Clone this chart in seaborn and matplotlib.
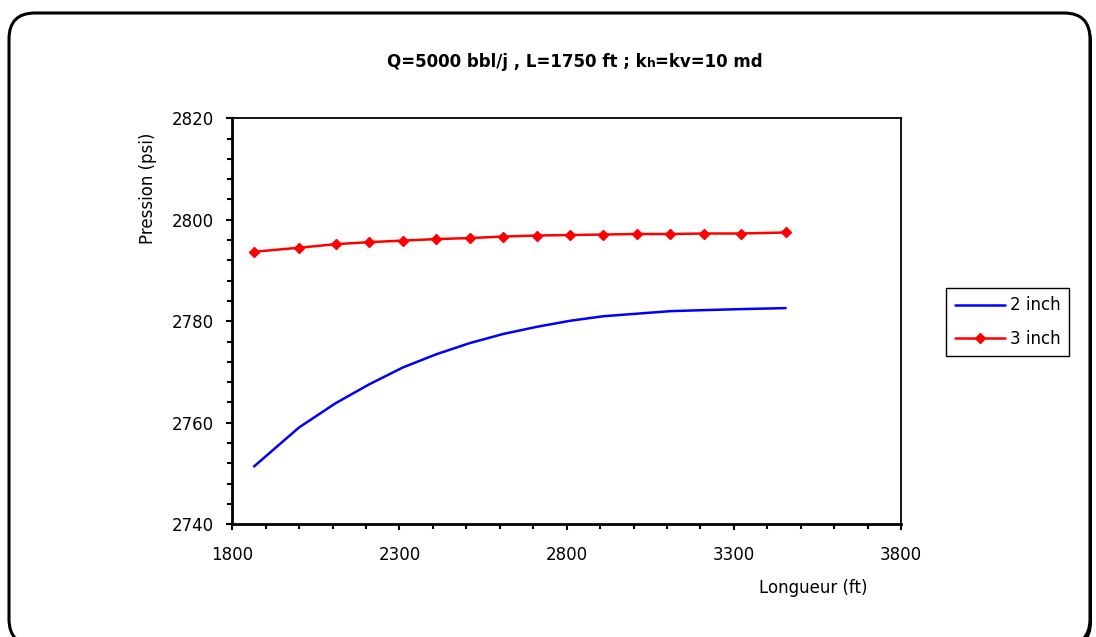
import matplotlib
matplotlib.use("Agg")
import matplotlib.pyplot as plt
from matplotlib.patches import FancyBboxPatch
from matplotlib.transforms import IdentityTransform
from matplotlib.offsetbox import TextArea, HPacker, AnchoredOffsetbox
from matplotlib.ticker import MultipleLocator
import seaborn as sns
import pandas as pd

# Lengths (ft) and bottom-hole pressures (psi) for each tubing size
longueur = [1865, 2000, 2110, 2210, 2310, 2410, 2510, 2610, 2710, 2810,
            2910, 3010, 3110, 3210, 3320, 3455]
p_2inch = [2751.4, 2759.1, 2763.9, 2767.6, 2770.9, 2773.5, 2775.7, 2777.5,
           2778.9, 2780.1, 2781.0, 2781.5, 2782.0, 2782.2, 2782.4, 2782.6]
p_3inch = [2793.7, 2794.5, 2795.2, 2795.6, 2795.9, 2796.2, 2796.4, 2796.7,
           2796.9, 2797.0, 2797.1, 2797.2, 2797.2, 2797.3, 2797.3, 2797.5]
series_names = ["2 inch", "3 inch"]

x_ticks = [1800, 2300, 2800, 3300, 3800]
y_ticks = [2740, 2760, 2780, 2800, 2820]

df2 = pd.DataFrame({"Longueur": longueur, "Pression": p_2inch})
df3 = pd.DataFrame({"Longueur": longueur, "Pression": p_3inch})

sns.set_style("white")
plt.rcParams["font.family"] = ["DejaVu Sans"]
plt.rcParams["font.size"] = 12
for key in ["text.color", "axes.labelcolor", "xtick.color", "ytick.color",
            "axes.edgecolor"]:
    plt.rcParams[key] = "black"

W, H, DPI = 1096, 637, 100
fig = plt.figure(figsize=(W / DPI, H / DPI), dpi=DPI)
fig.patch.set_facecolor("white")

# Rounded chart frame with a small drop shadow
shadow = FancyBboxPatch((11, -11), 1081, 632, boxstyle="round,pad=0,rounding_size=26",
                        transform=IdentityTransform(), facecolor="black",
                        edgecolor="none", zorder=0)
frame = FancyBboxPatch((9, -8), 1081, 632, boxstyle="round,pad=0,rounding_size=26",
                       transform=IdentityTransform(), facecolor="white",
                       edgecolor="black", linewidth=2.2, zorder=1)
fig.patches.extend([shadow, frame])

ax = fig.add_axes([232.3 / W, 1 - 524.3 / H, (901 - 232.3) / W, (524.3 - 118.3) / H])
ax.set_zorder(3)
ax.set_facecolor("white")

sns.lineplot(data=df2, x="Longueur", y="Pression", ax=ax, color="#0000ff",
             linewidth=1.8, label=series_names[0])
sns.lineplot(data=df3, x="Longueur", y="Pression", ax=ax, color="#ff0000",
             linewidth=1.8, marker="D", markersize=5.5, markeredgewidth=1,
             markeredgecolor="#ff0000", label=series_names[1])

ax.set_xlim(x_ticks[0], x_ticks[-1])
ax.set_ylim(y_ticks[0], y_ticks[-1])
ax.set_xticks(x_ticks)
ax.set_yticks(y_ticks)
ax.xaxis.set_minor_locator(MultipleLocator(100))
ax.yaxis.set_minor_locator(MultipleLocator(4))
ax.tick_params(axis="both", which="major", direction="out", length=4.5, width=1.5,
               color="black", labelcolor="black", labelsize=12, bottom=True, left=True)
ax.tick_params(axis="both", which="minor", direction="out", length=3.5, width=1.5,
               color="black", bottom=True, left=True)
ax.tick_params(axis="y", which="major", pad=9)
ax.tick_params(axis="x", which="major", pad=11)
for side in ["left", "bottom"]:
    ax.spines[side].set_linewidth(2)
    ax.spines[side].set_color("black")
for side in ["top", "right"]:
    ax.spines[side].set_linewidth(1.3)
    ax.spines[side].set_color("black")
ax.set_xlabel("")
ax.set_ylabel("")

fig.text(148 / W, 1 - 188 / H, "Pression (psi)", rotation=90, ha="center",
         va="center", fontsize=12, color="black", zorder=4)
fig.text(813 / W, 1 - 588 / H, "Longueur (ft)", ha="center", va="center",
         fontsize=12, color="black", zorder=4)

# Title with a reduced "h" in kh
bold = dict(fontsize=12, fontweight="bold", color="black")
parts = [TextArea("Q=5000 bbl/j , L=1750 ft ; k", textprops=bold),
         TextArea("h", textprops=dict(bold, fontsize=9)),
         TextArea("=kv=10 md", textprops=bold)]
title_box = HPacker(children=parts, align="baseline", pad=0, sep=0)
anchored = AnchoredOffsetbox(loc="center", child=title_box, frameon=False,
                             bbox_to_anchor=(575 / W, 1 - 62 / H),
                             bbox_transform=fig.transFigure, pad=0, borderpad=0)
anchored.set_zorder(5)
fig.add_artist(anchored)

leg = ax.legend(loc="center", bbox_to_anchor=(1007.5 / W, 1 - 322 / H),
                bbox_transform=fig.transFigure, frameon=True, fancybox=False,
                edgecolor="black", framealpha=1, fontsize=12, handlelength=3.0,
                handletextpad=0.3, borderpad=0.5, labelspacing=0.9,
                borderaxespad=0, labelcolor="black")
leg.get_frame().set_linewidth(1.0)

fig.savefig("out.png", dpi=DPI, facecolor="white")
